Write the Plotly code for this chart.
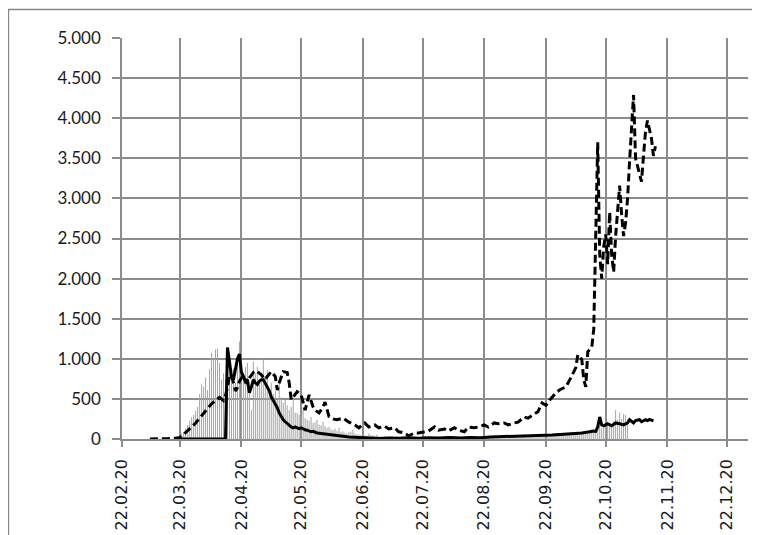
import plotly.graph_objects as go
import pandas as pd

# ---- tick labels ----
tick_dates = ["2020-02-22", "2020-03-22", "2020-04-22", "2020-05-22", "2020-06-22", "2020-07-22",
              "2020-08-22", "2020-09-22", "2020-10-22", "2020-11-22", "2020-12-22"]
tick_labels = ["22.02.20", "22.03.20", "22.04.20", "22.05.20", "22.06.20", "22.07.20",
               "22.08.20", "22.09.20", "22.10.20", "22.11.20", "22.12.20"]

# ---- gray daily bars (from 21.03.2020, one value per day) ----
bar_start = "2020-03-21"
bar_values = (
    [20, 45, 70, 90, 130, 175, 230, 275, 300, 350, 400] +  # Mar 21-31
    [560, 680, 650, 765, 610, 870, 1075, 1000, 1115, 1125, 950, 740, 820, 740, 860,
     1000, 780, 880, 700, 1050, 1215, 990, 820, 900, 950, 600, 360, 965, 820, 900] +  # Apr
    [740, 830, 990, 780, 865, 620, 700, 560, 600, 490, 780, 520, 450, 490, 420, 360,
     400, 490, 330, 325, 300, 280, 390, 260, 240, 230, 275, 200, 210, 240, 180] +  # May
    [170, 215, 160, 140, 150, 120, 110, 130, 100, 140, 90, 95, 80, 70, 85, 90, 115,
     70, 60, 55, 50, 60, 45, 40, 70, 50, 45, 40, 55, 35] +  # Jun
    [30, 35, 40, 30, 25, 30, 35, 25, 30, 20, 25, 30, 20, 25, 20, 25, 30, 20, 15, 25,
     20, 25, 30, 20, 25, 30, 25, 20, 25, 30, 20] +  # Jul
    [25, 20, 30, 25, 20, 30, 25, 20, 25, 30, 20, 25, 30, 25, 20, 25, 30, 20, 25, 30,
     25, 30, 35, 30, 25, 30, 35, 40, 30, 35, 40] +  # Aug
    [30, 35, 40, 35, 30, 40, 45, 40, 35, 45, 50, 45, 40, 50, 55, 50, 45, 55, 60, 55,
     50, 60, 65, 60, 55, 65, 70, 65, 60, 70] +  # Sep
    [60, 70, 65, 75, 70, 80, 75, 85, 80, 90, 85, 95, 100, 110, 120, 100, 130, 150,
     170, 140, 160, 150, 180, 200, 160, 220, 360, 240, 330, 250, 310] +  # Oct
    [300, 250]  # Nov 1-2
)
bar_dates = pd.date_range(bar_start, periods=len(bar_values), freq="D")

# ---- solid black line ----
solid_dates = ["2020-03-22", "2020-04-14", "2020-04-15", "2020-04-16", "2020-04-17", "2020-04-18",
               "2020-04-19", "2020-04-20", "2020-04-21", "2020-04-22", "2020-04-23", "2020-04-24",
               "2020-04-25", "2020-04-26", "2020-04-27", "2020-04-28", "2020-04-29", "2020-04-30",
               "2020-05-01", "2020-05-02", "2020-05-03", "2020-05-04", "2020-05-05", "2020-05-06",
               "2020-05-07", "2020-05-08", "2020-05-09", "2020-05-10", "2020-05-11", "2020-05-12",
               "2020-05-13", "2020-05-14", "2020-05-15", "2020-05-16", "2020-05-17", "2020-05-18",
               "2020-05-19", "2020-05-20", "2020-05-21", "2020-05-22", "2020-05-23", "2020-05-24",
               "2020-05-25", "2020-05-26", "2020-05-27", "2020-05-28", "2020-05-29", "2020-05-30",
               "2020-06-01", "2020-06-04", "2020-06-07", "2020-06-09", "2020-06-12", "2020-06-15",
               "2020-06-20", "2020-06-25", "2020-07-01", "2020-07-05", "2020-07-10", "2020-07-15",
               "2020-07-20", "2020-07-25", "2020-07-30", "2020-08-05", "2020-08-10", "2020-08-15",
               "2020-08-20", "2020-08-25", "2020-09-01", "2020-09-05", "2020-09-10", "2020-09-15",
               "2020-09-20", "2020-09-25", "2020-10-01", "2020-10-05", "2020-10-10", "2020-10-14",
               "2020-10-16", "2020-10-17", "2020-10-18", "2020-10-19", "2020-10-20", "2020-10-21",
               "2020-10-23", "2020-10-25", "2020-10-27", "2020-10-29", "2020-10-31", "2020-11-02",
               "2020-11-03", "2020-11-05", "2020-11-06", "2020-11-08", "2020-11-09", "2020-11-11",
               "2020-11-12", "2020-11-13", "2020-11-15"]
solid_values = [0, 0, 1140, 950, 780, 740,
                850, 1000, 1060, 830, 780, 715,
                740, 575, 650, 740, 700, 680,
                720, 740, 740, 690, 650, 600,
                525, 480, 430, 390, 325, 280,
                240, 215, 190, 175, 150, 140,
                150, 140, 130, 140, 125, 115,
                110, 100, 90, 95, 80, 75,
                70, 60, 50, 40, 35, 25,
                20, 15, 5, 12, 8, 15,
                10, 15, 12, 18, 14, 20,
                16, 25, 30, 28, 40, 35,
                45, 50, 60, 65, 75, 90,
                100, 95, 150, 275, 175, 165,
                190, 165, 200, 190, 175, 200,
                240, 200, 230, 240, 215, 240,
                230, 245, 225]

# ---- dashed black line ----
dashed_dates = ["2020-03-07", "2020-03-12", "2020-03-16", "2020-03-20", "2020-03-22", "2020-03-24",
                "2020-03-26", "2020-03-28", "2020-03-30", "2020-04-01", "2020-04-03", "2020-04-05",
                "2020-04-07", "2020-04-09", "2020-04-11", "2020-04-13", "2020-04-14", "2020-04-15",
                "2020-04-16", "2020-04-17", "2020-04-18", "2020-04-19", "2020-04-20", "2020-04-21",
                "2020-04-22", "2020-04-23", "2020-04-24", "2020-04-25", "2020-04-26", "2020-04-27",
                "2020-04-28", "2020-04-29", "2020-04-30", "2020-05-02", "2020-05-04", "2020-05-05",
                "2020-05-07", "2020-05-09", "2020-05-10", "2020-05-11", "2020-05-12", "2020-05-13",
                "2020-05-15", "2020-05-16", "2020-05-17", "2020-05-19", "2020-05-20", "2020-05-22",
                "2020-05-24", "2020-05-26", "2020-05-28", "2020-05-29", "2020-05-31", "2020-06-02",
                "2020-06-03", "2020-06-05", "2020-06-07", "2020-06-09", "2020-06-12", "2020-06-15",
                "2020-06-18", "2020-06-20", "2020-06-23", "2020-06-25", "2020-06-28", "2020-06-30",
                "2020-07-03", "2020-07-05", "2020-07-08", "2020-07-10", "2020-07-13", "2020-07-15",
                "2020-07-18", "2020-07-20", "2020-07-23", "2020-07-25", "2020-07-28", "2020-07-30",
                "2020-08-02", "2020-08-04", "2020-08-07", "2020-08-09", "2020-08-12", "2020-08-14",
                "2020-08-17", "2020-08-19", "2020-08-22", "2020-08-24", "2020-08-27", "2020-08-29",
                "2020-09-01", "2020-09-03", "2020-09-06", "2020-09-08", "2020-09-11", "2020-09-13",
                "2020-09-16", "2020-09-18", "2020-09-20", "2020-09-22", "2020-09-24", "2020-09-27",
                "2020-09-29", "2020-10-02", "2020-10-04", "2020-10-07", "2020-10-08", "2020-10-10",
                "2020-10-11", "2020-10-12", "2020-10-13", "2020-10-15", "2020-10-16", "2020-10-17",
                "2020-10-18", "2020-10-19", "2020-10-20", "2020-10-21", "2020-10-22", "2020-10-23",
                "2020-10-24", "2020-10-25", "2020-10-26", "2020-10-27", "2020-10-28", "2020-10-29",
                "2020-10-30", "2020-10-31", "2020-11-01", "2020-11-02", "2020-11-03", "2020-11-04",
                "2020-11-05", "2020-11-06", "2020-11-07", "2020-11-08", "2020-11-09", "2020-11-10",
                "2020-11-11", "2020-11-12", "2020-11-13", "2020-11-14", "2020-11-15", "2020-11-16"]
dashed_values = [0, 0, 5, 10, 20, 60,
                 100, 150, 200, 260, 320, 390,
                 440, 480, 520, 480, 540, 650,
                 780, 800, 700, 600, 640, 720,
                 760, 790, 730, 690, 760, 800,
                 830, 850, 840, 800, 740, 780,
                 840, 780, 610, 700, 780, 840,
                 830, 700, 490, 560, 590, 550,
                 360, 550, 400, 360, 325, 400,
                 460, 280, 250, 240, 260, 210,
                 175, 140, 200, 150, 175, 140,
                 160, 125, 140, 90, 75, 40,
                 75, 75, 90, 100, 150, 110,
                 125, 100, 140, 110, 90, 150,
                 140, 150, 175, 150, 200, 190,
                 200, 175, 200, 210, 275, 260,
                 310, 340, 450, 420, 490, 575,
                 615, 650, 740, 890, 1050, 990,
                 740, 650, 1090, 1140, 1370, 2400,
                 3700, 2300, 2000, 2400, 2550, 2180,
                 2830, 2300, 2080, 2530, 2900, 3160,
                 2800, 2530, 2700, 3000, 3460, 3900,
                 4290, 3500, 3400, 3330, 3210, 3530,
                 3830, 3970, 3850, 3750, 3530, 3650]

GRID = "#8c8c8c"

# thin vertical bars drawn as 1px stems from 0 to each daily value
stem_x, stem_y = [], []
for d, v in zip(bar_dates, bar_values):
    stem_x += [d, d, None]
    stem_y += [0, v, None]

fig = go.Figure()
fig.add_trace(go.Scatter(x=stem_x, y=stem_y, mode="lines", connectgaps=False,
                         line=dict(color="#a3a3a3", width=1), showlegend=False, hoverinfo="skip"))
fig.add_trace(go.Scatter(x=dashed_dates, y=dashed_values, mode="lines",
                         line=dict(color="black", width=3, dash="8px,4px"), showlegend=False))
fig.add_trace(go.Scatter(x=solid_dates, y=solid_values, mode="lines",
                         line=dict(color="black", width=3), showlegend=False))

# page body has an 8px default margin, so the figure is 752x527 and offsets are reduced by 8
fig.update_layout(
    width=752, height=527, autosize=False,
    margin=dict(l=114, r=12, t=30, b=96, pad=0),
    paper_bgcolor="white", plot_bgcolor="white",
    separators=",.",
    shapes=[dict(type="rect", xref="paper", yref="paper",
                 x0=(0.5 - 114) / 626, x1=(770 - 114) / 626,
                 y0=(431 - 560) / 401, y1=(431 - 1.5) / 401,
                 line=dict(color="#868686", width=1.3), fillcolor="rgba(0,0,0,0)", layer="below")],
)
fig.update_xaxes(
    type="date", range=["2020-02-22", "2021-01-01 12:00"], automargin=False,
    tickmode="array", tickvals=tick_dates, ticktext=tick_labels, tickangle=-90,
    showgrid=True, gridcolor=GRID, gridwidth=1.5,
    showline=True, linecolor=GRID, linewidth=1.5,
    ticks="outside", ticklen=6, tickcolor=GRID, tickwidth=1.5,
    ticklabelstandoff=6,
    tickfont=dict(family="DejaVu Sans", size=16, color="#1a1a1a"),
    zeroline=False,
)
fig.update_yaxes(
    range=[0, 5000], dtick=500, tickformat=",d", automargin=False,
    showgrid=True, gridcolor=GRID, gridwidth=1.5,
    showline=True, linecolor=GRID, linewidth=1.5,
    ticks="outside", ticklen=8, tickcolor=GRID, tickwidth=1.5,
    ticklabelstandoff=8,
    tickfont=dict(family="Lato", size=17, color="#1a1a1a"),
    zeroline=False,
)

fig.write_html("out.html")
